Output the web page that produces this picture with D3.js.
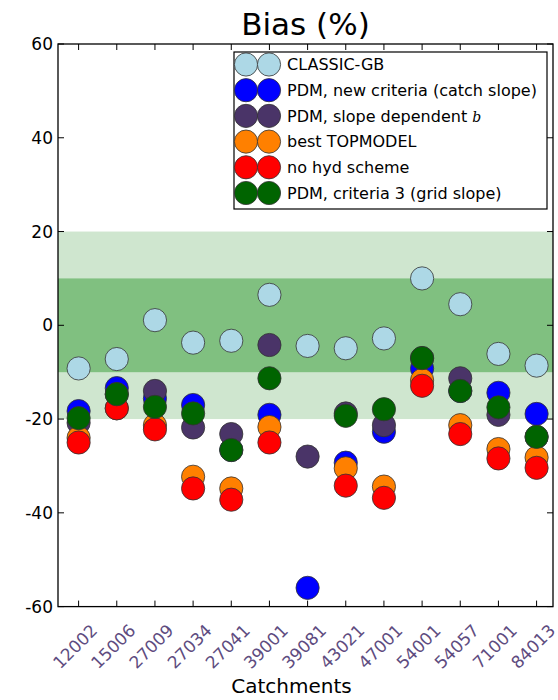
<!DOCTYPE html>
<html>
<head>
<meta charset="utf-8">
<script src="https://cdn.jsdelivr.net/npm/d3@7"></script>
<style>
  html, body { margin: 0; padding: 0; background: #fff; }
  svg { display: block; font-family: "DejaVu Sans", sans-serif; }
</style>
</head>
<body>
<svg id="chart" width="558" height="700"></svg>
<script>
// Catchment ids along the x axis
const catchments = ["12002", "15006", "27009", "27034", "27041", "39001", "39081",
                    "43021", "47001", "54001", "54057", "71001", "84013"];

// Bias (%) per catchment for each configuration (null = no value)
const classicGB   = [-9.2, -7.2, 1.1, -3.7, -3.3, 6.5, -4.4, -4.9, -2.8, 10.0, 4.5, -6.1, -8.6];
const pdmCatch    = [-18.3, -13.4, -15.6, -17.0, -26.6, -19.1, -56.0, -29.3, -22.7, -9.2, -14.0, -14.4, -18.9];
const pdmSlopeB   = [-20.8, -14.7, -14.0, -21.8, -23.2, -4.2, -28.0, -18.8, -21.3, -7.0, -11.3, -19.1, -23.8];
const bestTop     = [-24.0, -17.7, -21.3, -32.3, -34.8, -21.7, null, -30.5, -34.4, -11.7, -21.3, -26.4, -28.2];
const noHyd       = [-25.0, -17.7, -22.2, -34.8, -37.2, -25.0, null, -34.2, -36.8, -12.9, -23.2, -28.4, -30.4];
const pdmGrid     = [-19.8, -14.7, -17.4, -18.8, -26.6, -11.3, null, -19.3, -17.9, -7.0, -14.0, -17.5, -23.8];

const seriesNames = ["CLASSIC-GB", "PDM, new criteria (catch slope)", "PDM, slope dependent b",
                     "best TOPMODEL", "no hyd scheme", "PDM, criteria 3 (grid slope)"];
const seriesColors = ["#add8e6", "#0000ff", "#4a3468", "#ff8000", "#ff0000", "#006400"];
const seriesValues = [classicGB, pdmCatch, pdmSlopeB, bestTop, noHyd, pdmGrid];

const yTicks = [60, 40, 20, 0, -20, -40, -60];
const outerBand = [-20, 20];
const innerBand = [-10, 10];

const svg = d3.select("#chart");
const plot = { left: 58, right: 553, top: 44, bottom: 606.6 };

const x = d3.scaleLinear().domain([0.46, 13.43]).range([plot.left, plot.right]);
const y = d3.scaleLinear().domain([-60, 60]).range([plot.bottom, plot.top]);

// Shaded bands
svg.append("rect")
  .attr("x", plot.left).attr("width", plot.right - plot.left)
  .attr("y", y(outerBand[1])).attr("height", y(outerBand[0]) - y(outerBand[1]))
  .attr("fill", "#cfe6cf");
svg.append("rect")
  .attr("x", plot.left).attr("width", plot.right - plot.left)
  .attr("y", y(innerBand[1])).attr("height", y(innerBand[0]) - y(innerBand[1]))
  .attr("fill", "#80c080");

// Points, drawn series by series so later series sit on top
const R = 11.6;
seriesValues.forEach((vals, si) => {
  svg.append("g")
    .selectAll("circle")
    .data(vals.map((v, i) => ({ v, i })).filter(d => d.v !== null))
    .join("circle")
    .attr("cx", d => x(d.i + 1))
    .attr("cy", d => y(d.v))
    .attr("r", R)
    .attr("fill", seriesColors[si])
    .attr("stroke", "#333")
    .attr("stroke-opacity", 0.8)
    .attr("stroke-width", 1);
});

// Axes frame
svg.append("rect")
  .attr("x", plot.left).attr("y", plot.top)
  .attr("width", plot.right - plot.left).attr("height", plot.bottom - plot.top)
  .attr("fill", "none").attr("stroke", "#000").attr("stroke-width", 1.3);

const tickLen = 6;
const xs = d3.range(1, catchments.length + 1);

// Inward ticks on all four sides
const ticks = svg.append("g").attr("stroke", "#000").attr("stroke-width", 1);
xs.forEach(i => {
  ticks.append("line").attr("x1", x(i)).attr("x2", x(i)).attr("y1", plot.bottom).attr("y2", plot.bottom - tickLen);
  ticks.append("line").attr("x1", x(i)).attr("x2", x(i)).attr("y1", plot.top).attr("y2", plot.top + tickLen);
});
yTicks.forEach(t => {
  ticks.append("line").attr("x1", plot.left).attr("x2", plot.left + tickLen).attr("y1", y(t)).attr("y2", y(t));
  ticks.append("line").attr("x1", plot.right).attr("x2", plot.right - tickLen).attr("y1", y(t)).attr("y2", y(t));
});

// Y tick labels
svg.append("g").selectAll("text")
  .data(yTicks).join("text")
  .attr("x", plot.left - 5).attr("y", d => y(d))
  .attr("dy", "0.36em")
  .attr("text-anchor", "end")
  .attr("font-size", 17)
  .attr("fill", "#000")
  .text(d => d);

// X tick labels, rotated
svg.append("g").selectAll("text")
  .data(catchments).join("text")
  .attr("transform", (d, i) => `translate(${x(i + 1) - 3.5},646.5) rotate(-45)`)
  .attr("text-anchor", "middle")
  .attr("dy", "0.35em")
  .attr("font-size", 17)
  .attr("fill", "#5e4c80")
  .text(d => d);

// Title and axis label
svg.append("text")
  .attr("x", (plot.left + plot.right) / 2).attr("y", 35)
  .attr("text-anchor", "middle").attr("font-size", 31)
  .text("Bias (%)");
svg.append("text")
  .attr("x", (plot.left + plot.right) / 2 - 14).attr("y", 693)
  .attr("text-anchor", "middle").attr("font-size", 20)
  .text("Catchments");

// Legend
const leg = svg.append("g");
leg.append("rect")
  .attr("x", 234).attr("y", 52).attr("width", 313).attr("height", 157)
  .attr("fill", "#fff").attr("stroke", "#000").attr("stroke-width", 1.2);
seriesNames.forEach((name, i) => {
  const cy = 64.5 + i * 25.7;
  [246, 269].forEach(cx => {
    leg.append("circle").attr("cx", cx).attr("cy", cy).attr("r", R)
      .attr("fill", seriesColors[i]).attr("stroke", "#333").attr("stroke-opacity", 0.8);
  });
  const t = leg.append("text").attr("x", 287).attr("y", cy + 5.8).attr("font-size", 16);
  if (name.endsWith(" b")) {
    t.append("tspan").text(name.slice(0, -1));
    t.append("tspan").attr("font-family", "'DejaVu Serif', serif").attr("font-style", "italic").attr("font-size", 14).text("b");
  } else {
    t.text(name);
  }
});
</script>
</body>
</html>
